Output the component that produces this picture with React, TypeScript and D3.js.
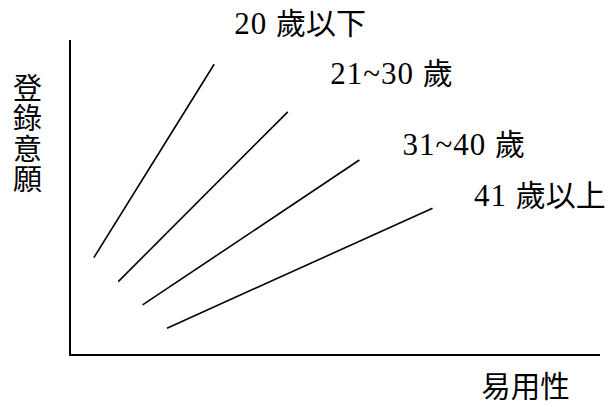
import React from "react";
import * as d3 from "d3";

// age groups and their line end points (x = 易用性, y = 登錄意願), arbitrary 0–10 units
const groups = ["20 歲以下", "21~30 歲", "31~40 歲", "41 歲以上"];
const startX = [0.45, 0.91, 1.37, 1.83];
const startY = [3.09, 2.33, 1.59, 0.85];
const endX = [2.72, 4.11, 5.46, 6.84];
const endY = [9.23, 7.72, 6.19, 4.66];

const xTitle = "易用性";
const yTitle = "登錄意願";

const W = 611;
const H = 407;
const origin = { x: 70, y: 355 };
const xEnd = 600;
const yTop = 40;

// label placement relative to the end of each line (px)
const labelOffset = [
  [20, -30],
  [42.5, -28],
  [43, -5.5],
  [41.5, -2.5],
];

const serif = "'Liberation Serif', 'Times New Roman', serif";
const cjk = "'Noto Sans CJK TC', 'Noto Sans CJK JP', sans-serif";

// split "21~30 歲" into latin part and CJK part so each gets its own font
function splitLabel(s: string) {
  const m = s.match(/^([^\u3000-\u9fff]*)(.*)$/);
  return m ? [m[1], m[2]] : [s, ""];
}

export default function App() {
  const x = d3.scaleLinear().domain([0, 10]).range([origin.x, xEnd]);
  const y = d3.scaleLinear().domain([0, 10]).range([origin.y, yTop]);

  const line = d3
    .line<[number, number]>()
    .x((d) => x(d[0]))
    .y((d) => y(d[1]));

  return (
    <svg
      width={W}
      height={H}
      style={{ position: "absolute", left: 0, top: 0, background: "#fff" }}
    >
      {/* axes */}
      <line x1={x(0)} y1={y(0)} x2={x(0)} y2={yTop} stroke="#000" strokeWidth={2} />
      <line x1={x(0) - 1} y1={y(0)} x2={xEnd} y2={y(0)} stroke="#000" strokeWidth={2} />

      {groups.map((g, i) => {
        const pts: [number, number][] = [
          [startX[i], startY[i]],
          [endX[i], endY[i]],
        ];
        const [latin, han] = splitLabel(g);
        return (
          <g key={g}>
            <path d={line(pts) || ""} fill="none" stroke="#000" strokeWidth={1.6} />
            <text
              x={x(endX[i]) + labelOffset[i][0]}
              y={y(endY[i]) + labelOffset[i][1]}
              fill="#000"
            >
              <tspan fontFamily={serif} fontSize={31} letterSpacing={1}>
                {latin}
              </tspan>
              <tspan fontFamily={cjk} fontSize={30}>
                {han}
              </tspan>
            </text>
          </g>
        );
      })}

      {/* y title, stacked vertically */}
      <text
        x={27.5}
        y={73}
        fontFamily={cjk}
        fontSize={29}
        fill="#000"
        style={{ writingMode: "vertical-rl", textOrientation: "upright", letterSpacing: 1.5 }}
      >
        {yTitle}
      </text>

      <text x={525.5} y={397} textAnchor="middle" fontFamily={cjk} fontSize={29.5} fill="#000">
        {xTitle}
      </text>
    </svg>
  );
}
